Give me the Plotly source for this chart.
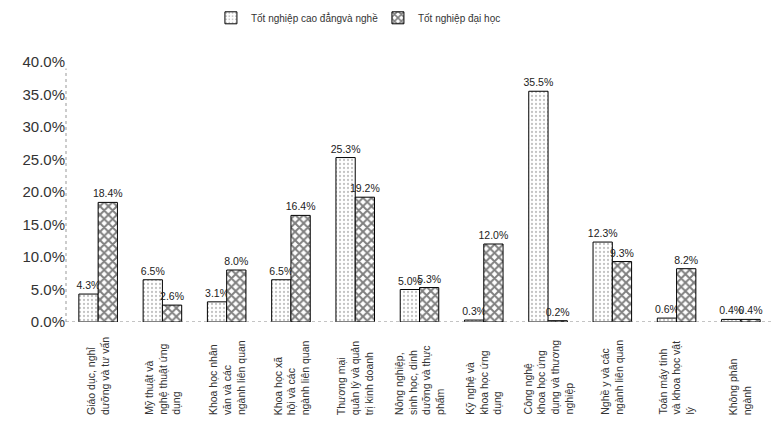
import plotly.graph_objects as go

categories = [
    "Giáo dục, nghỉ<br>dưỡng và tư vấn",
    "Mỹ thuật và<br>nghệ thuật ứng<br>dụng",
    "Khoa học nhân<br>văn và các<br>ngành liên quan",
    "Khoa học xã<br>hội và các<br>ngành liên quan",
    "Thương mại<br>quản lý và quản<br>trị kinh doanh",
    "Nông nghiệp,<br>sinh học, dinh<br>dưỡng và thực<br>phẩm",
    "Kỹ nghệ và<br>khoa học ứng<br>dụng",
    "Công nghệ<br>khoa học ứng<br>dụng và thương<br>nghiệp",
    "Nghề y và các<br>ngành liên quan",
    "Toán máy tính<br>và khoa học vật<br>lý",
    "Không phân<br>ngành",
]
cao_dang_nghe = [4.3, 6.5, 3.1, 6.5, 25.3, 5.0, 0.3, 35.5, 12.3, 0.6, 0.4]
dai_hoc = [18.4, 2.6, 8.0, 16.4, 19.2, 5.3, 12.0, 0.2, 9.3, 8.2, 0.4]
series_names = ["Tốt nghiệp cao đẳngvà nghề", "Tốt nghiệp đại học"]
y_ticks = [0, 5, 10, 15, 20, 25, 30, 35, 40]
y_tick_labels = [f"{v:.1f}%" for v in y_ticks]

x_idx = list(range(len(categories)))

fig = go.Figure()
fig.add_trace(go.Bar(
    x=x_idx, y=cao_dang_nghe, name=series_names[0],
    marker=dict(color="white", line=dict(color="black", width=1),
                pattern=dict(shape=".", fgcolor="#888888", bgcolor="white", size=4, solidity=0.25)),
    texttemplate="%{y:.1f}%", textposition="outside", constraintext="none",
    textfont=dict(size=10.5, color="#222222"), cliponaxis=False,
))
fig.add_trace(go.Bar(
    x=x_idx, y=dai_hoc, name=series_names[1],
    marker=dict(color="white", line=dict(color="black", width=1),
                pattern=dict(shape="x", fgcolor="black", bgcolor="white", size=6, solidity=0.55)),
    texttemplate="%{y:.1f}%", textposition="outside", constraintext="none",
    textfont=dict(size=10.5, color="#222222"), cliponaxis=False,
))

for i, c in enumerate(categories):
    fig.add_annotation(
        x=i, xref="x", y=-0.365, yref="paper",
        text=c, textangle=-90, showarrow=False,
        xanchor="center", yanchor="bottom", align="left",
        font=dict(size=10.5, color="#333333"),
    )

fig.update_layout(
    width=773, height=423,
    margin=dict(l=66, r=0, t=62, b=101),
    paper_bgcolor="white", plot_bgcolor="white",
    barmode="group", bargap=0.4, bargroupgap=0,
    font=dict(family="Liberation Sans, Arial, sans-serif", color="#333333"),
    showlegend=True,
    legend=dict(orientation="h", x=0.205, xanchor="left", y=1.17, yanchor="middle",
                font=dict(size=10, color="#333333"), itemwidth=30,
                entrywidth=122, entrywidthmode="pixels"),
    xaxis=dict(showticklabels=False, showgrid=False, zeroline=False,
               range=[-0.5, len(categories) - 0.5], showline=False, ticks=""),
    yaxis=dict(range=[0, 40], tickvals=y_ticks, ticktext=y_tick_labels,
               showgrid=False, zeroline=False, showline=False, ticks="",
               tickfont=dict(size=15, color="#333333")),
)
fig.add_shape(type="line", xref="paper", yref="y", x0=0, x1=1, y0=0, y1=0,
              line=dict(color="#888888", width=1, dash="dot"))
fig.add_shape(type="line", xref="paper", yref="y", x0=0, x1=0, y0=0, y1=39,
              line=dict(color="#999999", width=1, dash="dot"))

fig.write_html("out.html")
